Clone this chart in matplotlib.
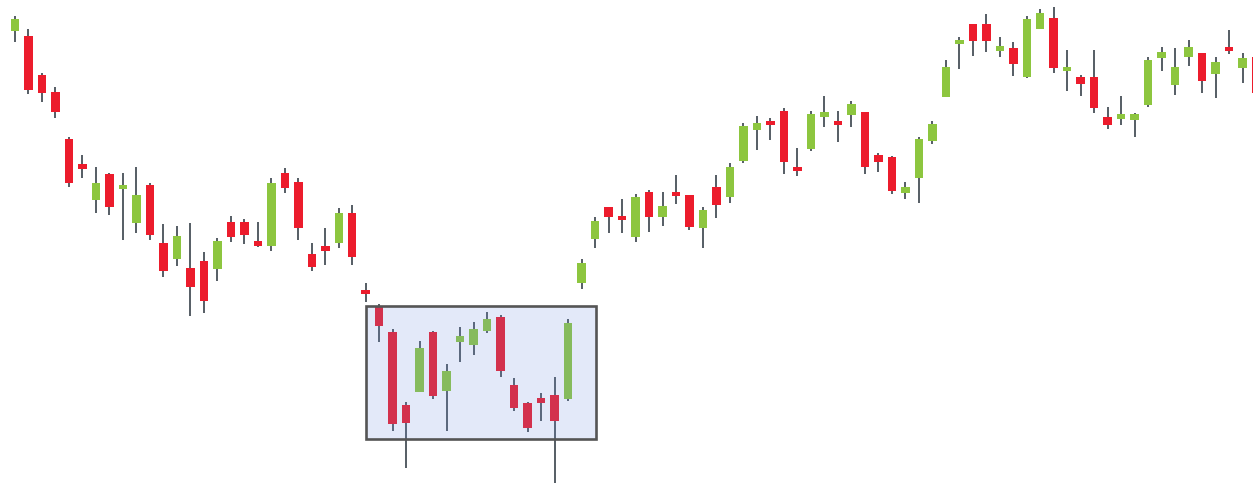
import matplotlib

matplotlib.use("Agg")
import matplotlib.pyplot as plt
from matplotlib.patches import Rectangle
import numpy as np

# OHLC values (arbitrary price units)
opens = [452.3, 447, 408, 391, 343.7, 318.7, 283, 308.7, 293.7, 259.7,
         298, 240.3, 224, 215.3, 222, 214, 260.7, 260.7, 242.3, 237.3,
         309.7, 301.3, 228.7, 237, 239.7, 269.7, 193, 176.3, 150.7, 78,
         90.7, 150.7, 92.3, 141.3, 137.7, 152.3, 166.3, 98, 79.7, 84.7,
         88, 83.7, 200.3, 244.3, 275.7, 267.3, 246.3, 291.3, 266.3, 291.3,
         287.7, 254.7, 296.3, 286.3, 322, 352.7, 362.3, 372.3, 316.3, 333.7,
         366.3, 362.3, 368, 370.7, 328, 326.3, 290.3, 305.5, 342.3, 385.7,
         439, 458.7, 458.7, 432.3, 435, 406.3, 454, 465.3, 412, 406.3,
         406.3, 365.7, 364.3, 363, 377.7, 425.3, 398, 425.7, 430.3, 409,
         436.3, 415.3, 426.3]
highs = [467.3, 453.7, 409.7, 395.7, 345.7, 328, 316.3, 309.7, 309.7, 316.3,
         299.7, 258.7, 257, 260.3, 231.3, 245.3, 267.3, 264, 260.7, 304.7,
         314.7, 304.7, 240.3, 255.3, 274.7, 278, 199.7, 179, 153.7, 81.3,
         142, 152.3, 118.7, 156.3, 161, 171.3, 168, 104.7, 81.3, 89.7,
         106.3, 164, 223.7, 265.7, 276.3, 284.3, 289, 293, 290.7, 308,
         288, 275.7, 307.7, 319.7, 360.3, 367, 365.3, 375, 334.7, 372,
         387.3, 372, 382.3, 370.7, 330.3, 327, 301, 346.5, 362, 423,
         445.7, 458.7, 468.7, 446.3, 441.3, 467.3, 473.7, 475.7, 433, 408,
         433, 375.7, 387.3, 369.7, 426.3, 436.3, 434.7, 443, 430.3, 426.3,
         453, 429.7, 428]
lows = [440.7, 388.7, 381.3, 364.7, 296.3, 305.3, 269.7, 268, 243, 249.7,
        243, 205.7, 217.3, 167, 169.7, 202, 240.7, 239, 235.7, 232.3,
        289.7, 243, 212.3, 217.7, 234.7, 217.7, 181.3, 141.3, 52.3, 14.7,
        90.7, 83.7, 52, 121.3, 128, 149.7, 105.7, 72, 51.3, 62,
        0, 82, 193.7, 234.7, 250.3, 249.7, 241.3, 251.3, 257, 278.7,
        253, 234.7, 265.3, 280.3, 320.3, 333, 343, 309, 307.3, 332.3,
        356.3, 341.3, 356.3, 309, 310.7, 288.7, 284, 280.5, 339, 385.7,
        414, 427.3, 430.7, 425.7, 407, 405.3, 454, 410.3, 392, 387,
        369.7, 354.3, 358, 346.3, 376.3, 412.3, 388, 417, 390.3, 385.3,
        429, 400.3, 388]
closes = [463.7, 393, 389.7, 371.3, 300.3, 314, 300, 276.3, 298, 287.7,
          247.7, 212.3, 247, 195.7, 182, 242.3, 245.7, 247.7, 237.3, 299.7,
          294.7, 254.7, 215.7, 232.3, 269.7, 225.7, 188.7, 157, 58.7, 60,
          135.3, 87, 112, 147.3, 154, 164, 112.3, 75.3, 55.3, 80.3,
          62, 159.7, 220.3, 262.3, 266.3, 263, 286.3, 266.3, 277.3, 286.7,
          256.3, 272.7, 278, 316.3, 357.3, 360.3, 357.7, 320.7, 312, 369,
          371, 357.7, 379, 315.7, 321, 292, 296, 343.7, 359, 416.3,
          443.3, 442.3, 442, 436.7, 418.7, 463.7, 470.3, 414.7, 416.3, 398.7,
          374.7, 357.7, 369, 369, 423, 431.3, 416.3, 436.3, 402, 421.3,
          432, 424.7, 390]

# highlighted range (candle index span and price span)
box_x = [26.05, 43.06]
box_y = [44, 177.3]

UP = "#8dc63f"
DOWN = "#ec1c2c"
WICK = "#2f3a42"

fig = plt.figure(figsize=(12.53, 4.83), dpi=100)
ax = fig.add_axes([0, 0, 1, 1])

x = np.arange(len(opens))
o = np.array(opens)
h = np.array(highs)
l = np.array(lows)
c = np.array(closes)
up = c >= o
width = 0.63

ax.vlines(x, l, h, color=WICK, lw=1.15, zorder=1)
ax.bar(x[up], (c - o)[up], bottom=o[up], width=width, color=UP, zorder=2)
ax.bar(x[~up], (o - c)[~up], bottom=c[~up], width=width, color=DOWN, zorder=2)

ax.add_patch(Rectangle((box_x[0], box_y[0]), box_x[1] - box_x[0], box_y[1] - box_y[0],
                       facecolor=(0.42, 0.55, 0.88, 0.19), edgecolor="none", zorder=3))
ax.add_patch(Rectangle((box_x[0], box_y[0]), box_x[1] - box_x[0], box_y[1] - box_y[0],
                       fill=False, edgecolor="#555555", lw=1.9, zorder=4))

step = 13.49
ax.set_xlim(-15 / step, (1253 - 15) / step)
ax.set_ylim(0, 483)
ax.axis("off")

fig.savefig("out.png", dpi=100)
plt.close(fig)
